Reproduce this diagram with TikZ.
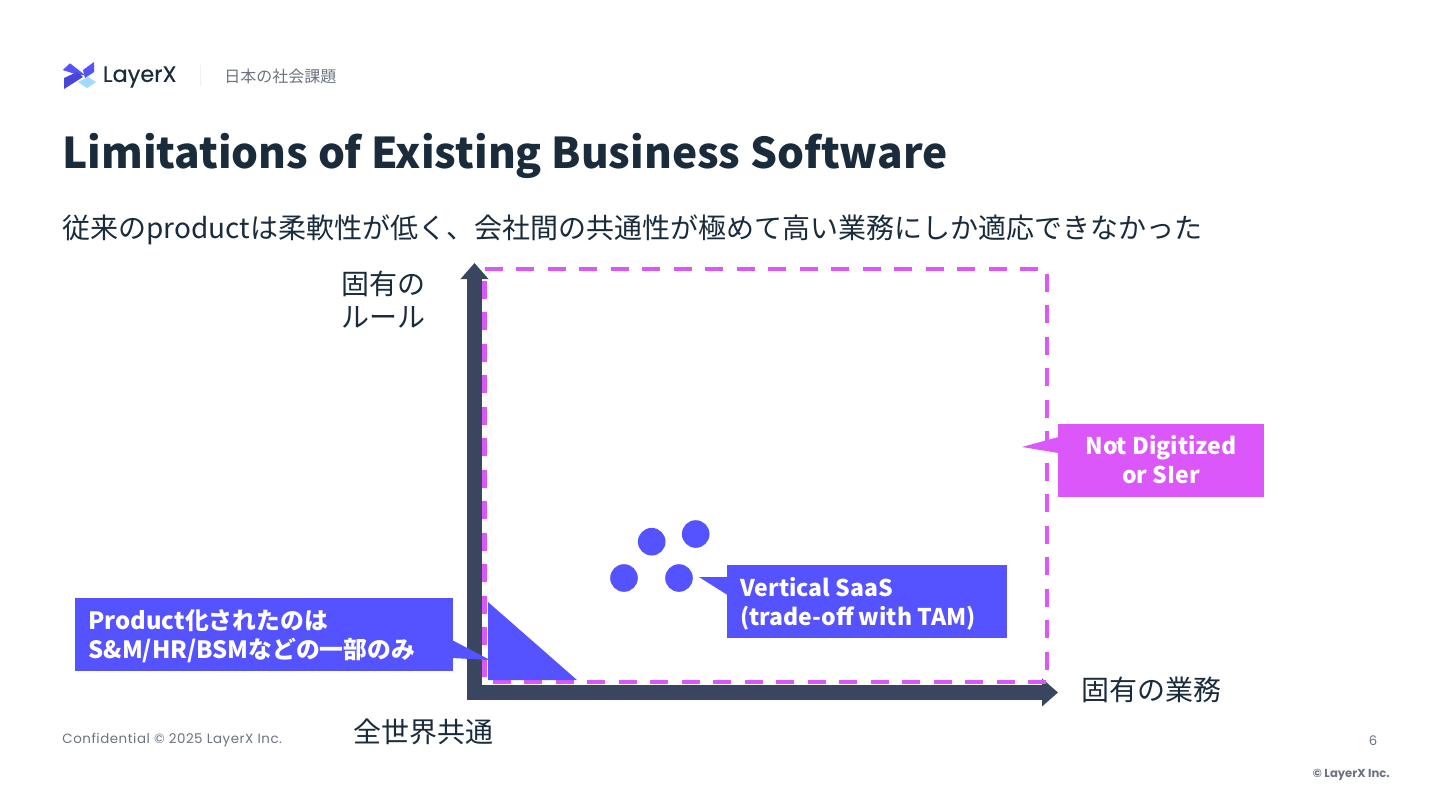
\documentclass[tikz,border=0pt]{standalone}
\usepackage{fontspec}
\setmainfont{Noto Sans CJK JP}
\newfontfamily\footfont[LetterSpace=4]{Poppins}
\newfontfamily\logofont[FakeBold=0.4]{Poppins}
\newfontfamily\markfont{Poppins}
\usepackage{tikz}
\usetikzlibrary{arrows.meta,positioning}
\definecolor{axisnavy}{HTML}{3A4660}
\definecolor{lxblue}{HTML}{5552FF}
\definecolor{lxpink}{HTML}{DB57FA}
\definecolor{inkdark}{HTML}{1A2B3B}
\definecolor{inkgray}{HTML}{6B7280}
\tikzset{
  axisline/.style={draw=axisnavy, line width=7.25pt, -{Triangle[width=13.5pt,length=8pt]}},
  callout/.style={fill=#1, text=white, inner sep=0pt, minimum height=36.75pt},
  calloutlatin/.style={font=\fontsize{11.5}{14.5}\selectfont\bfseries},
  calloutcjk/.style={font=\fontsize{11.9}{14.4}\selectfont\bfseries},
  spot/.style={circle, fill=lxblue, inner sep=0pt, minimum size=13.8pt},
  label/.style={inner sep=0pt, text=inkdark, font=\fontsize{14}{16.2}\selectfont},
}
\begin{document}
\begin{tikzpicture}[x=0.5pt, y=-0.5pt]
      \useasboundingbox (0,0) rectangle (1440,810);

      % Header
      \fill[lxblue] (62.7,70) -- (70,63.3) -- (85,75) -- (78,75) -- cycle;
      \fill[lxblue!85!black] (64,78) -- (64,89) -- (83,77) -- (77,72) -- cycle;
      \fill[lxblue] (83,70) -- (94,62) -- (94,72) -- (85,78) -- cycle;
      \fill[lxblue!45!cyan!45!white] (78,82) -- (88,77) -- (96,82) -- (87,88) -- cycle;
      \node[anchor=west, inner sep=0pt, text=inkdark, font=\logofont\fontsize{11.2}{13}\selectfont] (logotext) at (102.5,77) {LayerX};
      \draw[black!6, line width=0.5pt] (200,65) -- (200,86);
      \node[anchor=west, inner sep=0pt, text=inkgray, font=\fontsize{8}{10}\selectfont] (section) at (224,76) {日本の社会課題};

      % Title and subtitle
      \node[anchor=west, inner sep=0pt, text=inkdark, font=\fontsize{21.2}{26}\selectfont\bfseries] (title) at (62,156) {Limitations of Existing Business Software};
      \node[anchor=west, inner sep=0pt, text=inkdark, font=\fontsize{14}{16}\selectfont] (subtitle) at (62,230) {従来のproductは柔軟性が低く、会社間の共通性が極めて高い業務にしか適応できなかった};

      % Define nodes
      \coordinate (origin) at (474.5,692.5);
      \coordinate (ytip) at (474.5,263);
      \coordinate (xtip) at (1058,692.5);
      \node[label, anchor=north west, align=left] (ylabel) at (341,271) {固有の\\ルール};
      \node[label, anchor=west] (xlabel) at (1081,690) {固有の業務};
      \node[label, anchor=west] (originlabel) at (353,732) {全世界共通};

      % Draw axes
      \draw[axisline] ([yshift=-3.75pt]origin) -- (ytip);
      \draw[axisline] ([xshift=-3.6pt]origin) -- (xtip);

      % Dashed frame
      \draw[lxpink, line width=2.4pt, dash pattern=on 9pt off 6.75pt] (484.5,269) -- (1047,269) -- (1047,682) -- (484.5,682) -- cycle;

      % Corner triangle
      \fill[lxblue] (488,602) -- (488,680) -- (577,680) -- cycle;

      % Spots
      \node[spot] (spota) at (651.7,541.7) {};
      \node[spot] (spotb) at (695.7,534) {};
      \node[spot] (spotc) at (624,578) {};
      \node[spot] (spotd) at (679,578) {};

      % Callouts
      \node[callout=lxpink, minimum width=103pt] (digitized) at (1161,460.25) {};
      \node[calloutlatin, text=white, inner sep=0pt, align=center] (digitizedtext) at (1161,459.5) {Not Digitized\\or SIer};
      \coordinate (digitizedtip) at (1022,447);
      \fill[lxpink] (digitizedtip) -- (1058.5,437) -- (1058.5,453) -- cycle;

      \node[callout=lxblue, minimum width=140pt] (vertical) at (867,601.5) {};
      \node[calloutlatin, text=white, inner sep=0pt, align=left, anchor=west] (verticaltext) at (740,603.5) {Vertical SaaS\\(trade-off with TAM)};
      \coordinate (verticaltip) at (699,577);
      \fill[lxblue] (verticaltip) -- (727.5,577) -- (727.5,595) -- cycle;

      \node[callout=lxblue, minimum width=189pt] (product) at (263.5,634.5) {};
      \node[calloutcjk, text=white, inner sep=0pt, align=left, anchor=west] (producttext) at (88,636) {Product化されたのは\\S\&M/HR/BSMなどの一部のみ};
      \coordinate (producttip) at (490,660);
      \fill[lxblue] (producttip) -- (452,640) -- (452,658) -- cycle;

      % Footer
      \node[anchor=west, inner sep=0pt, text=inkgray, font=\footfont\fontsize{6.7}{8}\selectfont] (confidential) at (62,740) {Confidential © 2025 LayerX Inc.};
      \node[inner sep=0pt, text=inkgray, font=\markfont\fontsize{6.6}{8}\selectfont] (pagenum) at (1373,741) {6};
      \node[anchor=east, inner sep=0pt, text=inkgray, font=\markfont\fontsize{5.8}{8}\selectfont\bfseries] (copyright) at (1390,774.5) {© LayerX Inc.};
\end{tikzpicture}
\end{document}
